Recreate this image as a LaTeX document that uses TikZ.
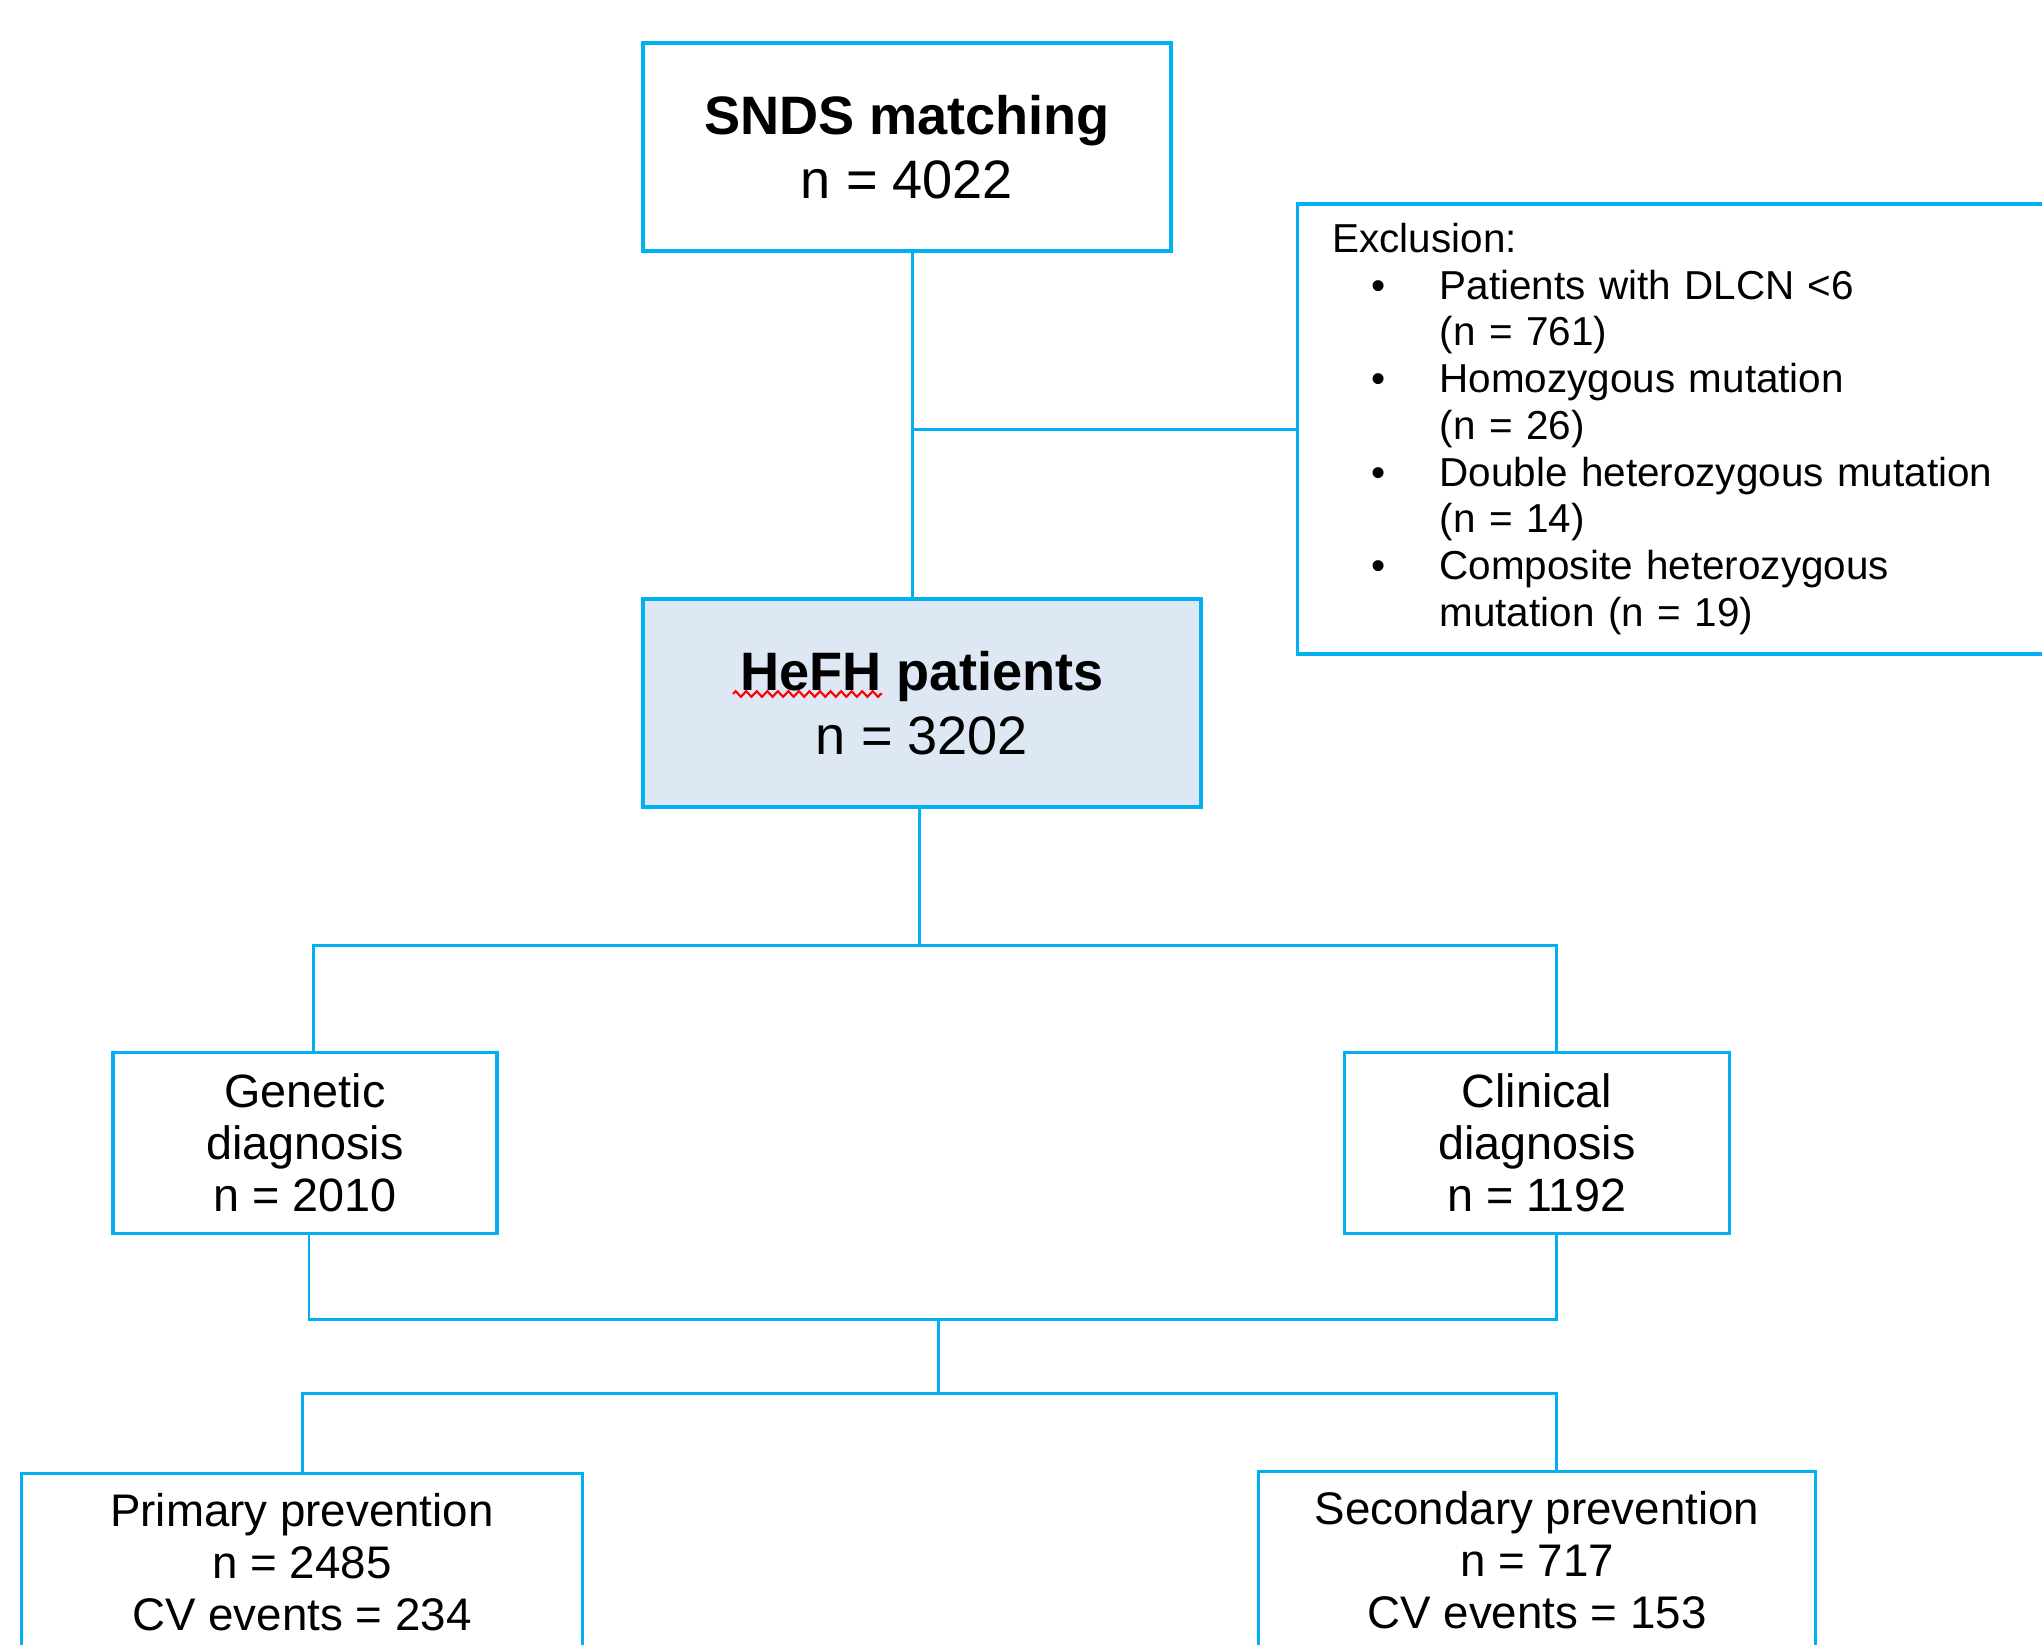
\documentclass[tikz,border=0pt]{standalone}
\usepackage{fontspec}
\setmainfont{Liberation Sans}
\usetikzlibrary{decorations.pathmorphing}
\definecolor{flowblue}{RGB}{0,176,240}
\definecolor{hefhfill}{RGB}{221,232,244}
\tikzset{box/.style={draw=flowblue, line width=0.9pt, align=center, inner sep=0pt},
         link/.style={draw=flowblue, line width=0.85pt},
         bigtext/.style={font=\fontsize{15.4}{18.3}\selectfont},
         midtext/.style={font=\fontsize{13.3}{14.8}\selectfont},
         lowtext/.style={font=\fontsize{13}{14.8}\selectfont},
         excltext/.style={font=\fontsize{11.5}{13.3}\selectfont}}

\begin{document}
\begin{tikzpicture}
  \useasboundingbox (0,0) rectangle (20.42,-16.44);
  \node[box, bigtext, minimum width=5.28cm, minimum height=2.08cm] (snds) at (9.07,-1.47)
    {\textbf{SNDS matching}\\ n = 4022};
  \node[box, bigtext, fill=hefhfill, minimum width=5.58cm, minimum height=2.08cm] (hefh) at (9.22,-7.03)
    {\textbf{HeFH patients}\\ n = 3202};
  \node[box, excltext, anchor=west, align=left, text width=7.3cm, inner xsep=0.35cm, minimum height=4.5cm] (excl) at (12.96,-4.29)
    {Exclusion:\\
     \hspace*{0.39cm}\makebox[0.68cm][l]{\textbullet}Patients with DLCN <6\\
     \hspace*{1.07cm}(n = 761)\\
     \hspace*{0.39cm}\makebox[0.68cm][l]{\textbullet}Homozygous mutation\\
     \hspace*{1.07cm}(n = 26)\\
     \hspace*{0.39cm}\makebox[0.68cm][l]{\textbullet}Double heterozygous mutation\\
     \hspace*{1.07cm}(n = 14)\\
     \hspace*{0.39cm}\makebox[0.68cm][l]{\textbullet}Composite heterozygous\\
     \hspace*{1.07cm}mutation (n = 19)};
  \node[box, midtext, minimum width=3.84cm, minimum height=1.81cm] (genetic) at (3.05,-11.43)
    {Genetic\\ diagnosis\\ n = 2010};
  \node[box, midtext, minimum width=3.85cm, minimum height=1.81cm] (clinical) at (15.37,-11.43)
    {Clinical\\ diagnosis\\ n = 1192};
  \node[box, lowtext, anchor=north, minimum width=5.61cm, inner ysep=0.2cm, text depth=1cm] (primary) at (3.02,-14.72)
    {Primary prevention\\ n = 2485\\ CV events = 234};
  \node[box, lowtext, anchor=north, minimum width=5.57cm, inner ysep=0.2cm, text depth=1cm] (secondary) at (15.37,-14.70)
    {Secondary prevention\\ n = 717\\ CV events = 153};
  \draw[red, line width=0.6pt, decorate, decoration={zigzag, segment length=3pt, amplitude=0.8pt}]
    ([xshift=-1.89cm,yshift=0.09cm]hefh.center) -- ([xshift=-0.40cm,yshift=0.09cm]hefh.center);

  \coordinate (fork) at (9.19,-9.45);
  \coordinate (join) at (9.38,-13.19);
  \coordinate (split) at (9.38,-13.93);
  \coordinate (sndsout) at ([xshift=0.05cm]snds.south);
  \coordinate (gtop) at ([xshift=0.08cm]genetic.north);
  \coordinate (gbot) at ([xshift=0.04cm]genetic.south);
  \coordinate (ctop) at ([xshift=0.19cm]clinical.north);
  \coordinate (cbot) at ([xshift=0.19cm]clinical.south);
  \coordinate (stop) at ([xshift=0.19cm]secondary.north);
  \draw[link] (sndsout) -- (sndsout |- hefh.north);
  \draw[link] (sndsout |- excl.west) -- (excl.west);
  \draw[link] (fork |- hefh.south) -- (fork);
  \draw[link] (gtop) |- (fork) -| (ctop);
  \draw[link] (gbot) |- (join -| cbot) -- (cbot);
  \draw[link] (join) -- (split);
  \draw[link] (primary.north) |- (split) -| (stop);
\end{tikzpicture}
\end{document}
